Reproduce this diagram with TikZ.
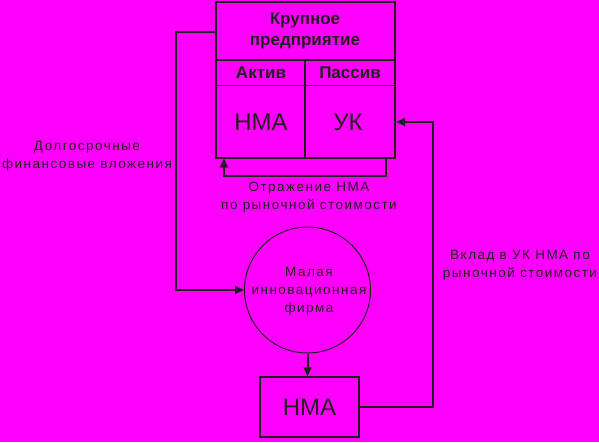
\documentclass[tikz,border=0pt]{standalone}
\usepackage{fontspec}
\setmainfont{Liberation Sans}
\newfontfamily\thinfont[LetterSpace=11]{Liberation Sans}
\usetikzlibrary{arrows.meta}

\definecolor{bgpink}{HTML}{FF00FF}
\definecolor{ink}{HTML}{231F20}

\tikzstyle{frame}=[draw=ink, line width=2pt, rectangle, inner sep=0pt]
\tikzstyle{cell}=[inner sep=0pt, text=ink]
\tikzstyle{head}=[cell, font=\bfseries\fontsize{17}{21}\selectfont, align=center]
\tikzstyle{big}=[cell, font=\fontsize{24}{28}\selectfont]
\tikzstyle{note}=[align=center, text=ink, font=\thinfont\fontsize{13.5}{18}\selectfont]
\tikzstyle{link}=[draw=ink, line width=2pt, -{Triangle[length=9pt,width=8pt]}]

\begin{document}
\begin{tikzpicture}[x=1pt, y=-1pt]
					% background and size
					\fill[bgpink] (0,0) rectangle (599,442);
					\useasboundingbox (0,0) rectangle (599,442);

					% Large company balance
					\node[frame, minimum width=179pt, minimum height=156pt] (firm) at (305.5,79.5) {};
					\draw[ink, line width=2pt] (216,60) -- (395,60);
					\draw[ink, line width=1pt] (216,85) -- (395,85);
					\draw[ink, line width=2pt] (305,60) -- (firm.south -| 305,0);

					\node[head] (title) at (305,31) {Крупное\\предприятие};
					\node[head] (aktiv) at (261,72.5) {Актив};
					\node[head] (passiv) at (350,72.5) {Пассив};
					\node[big] (nma) at (261,122) {НМА};
					\node[big] (uk) at (348,122) {УК};

					% Small firm and its asset
					\node[circle, draw=ink, line width=1pt, minimum size=126pt, inner sep=0pt] (small) at (307.5,290) {};
					\node[note] (smalltext) at (309,291) {Малая\\инновационная\\фирма};
					\node[frame, line width=1.5pt, minimum width=99pt, minimum height=60pt] (asset) at (309.5,407) {};
					\node[big] (assettext) at (309.5,407) {НМА};

					% Connectors
					\coordinate (lt) at (176,32);
					\coordinate (rt) at (433,122);
					\coordinate (fb1) at (386,176);
					\coordinate (fb2) at (224,176);
					\draw[link] (firm.west |- lt) -- (lt) |- (small.west);
					\draw[link] (small.south) -- (small.south |- asset.north);
					\draw[link] (asset.east) -| (rt) -- (firm.east |- rt);
					\draw[link] (firm.south -| fb1) -- (fb1) -- (fb2) -- (firm.south -| fb2);

					% Labels
					\node[note] (invest) at (87,156.5) {Долгосрочные\\финансовые вложения};
					\node[note] (reflect) at (309,197.5) {Отражение НМА\\по рыночной стоимости};
					\node[note] (deposit) at (520,265.5) {Вклад в УК НМА по\\рыночной стоимости};
				\end{tikzpicture}
\end{document}
